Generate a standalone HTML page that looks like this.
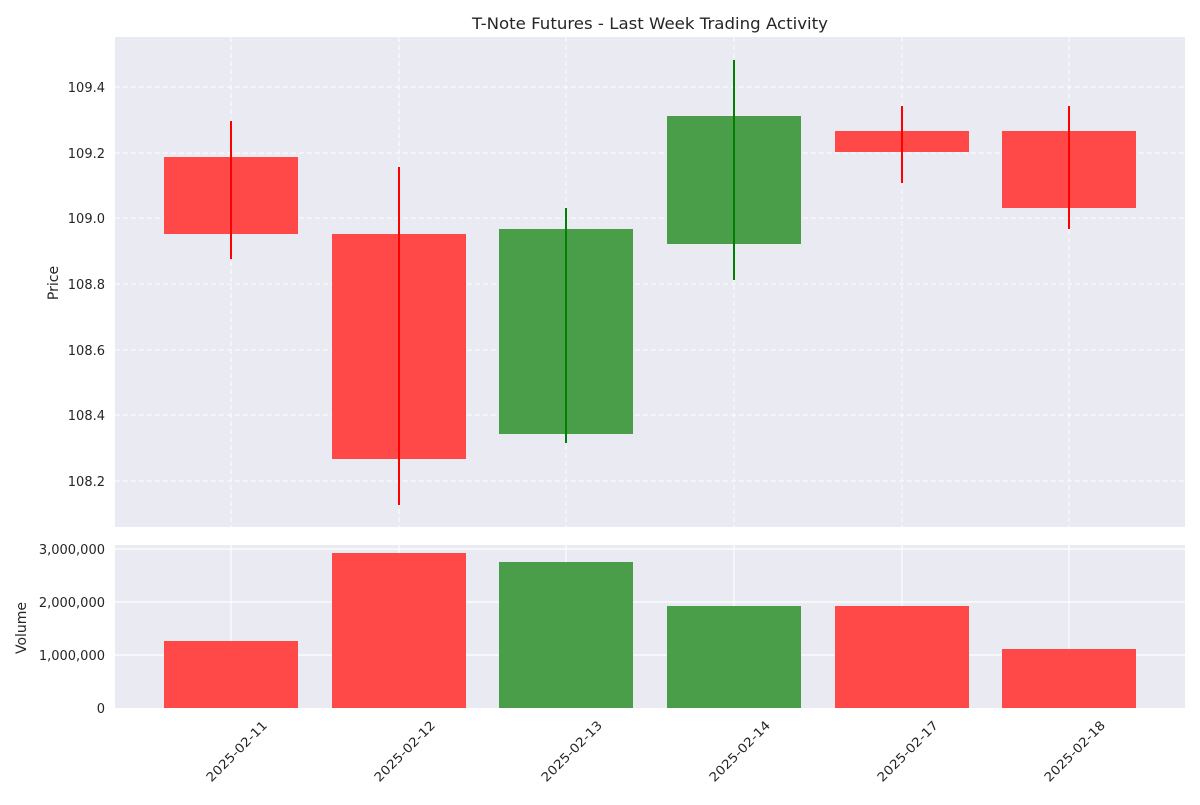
<!DOCTYPE html>
<html><head><meta charset="utf-8"><style>
html,body{margin:0;padding:0;background:#fff;}
svg text{font-family:"DejaVu Sans","Liberation Sans",sans-serif;fill:#262626;}
</style></head><body>
<svg width="1200" height="800" xmlns="http://www.w3.org/2000/svg">
<rect width="1200" height="800" fill="#fff"/>
<text x="650" y="29" font-size="16" text-anchor="middle" textLength="356" lengthAdjust="spacingAndGlyphs">T-Note Futures - Last Week Trading Activity</text>
<rect x="115" y="37" width="1070" height="490" fill="#eaeaf2"/>
<g stroke="#fff" stroke-width="1" stroke-dasharray="5,3" opacity="0.9">
<line x1="115" x2="1185" y1="87" y2="87"/><line x1="115" x2="1185" y1="153" y2="153"/>
<line x1="115" x2="1185" y1="218" y2="218"/><line x1="115" x2="1185" y1="284" y2="284"/>
<line x1="115" x2="1185" y1="350" y2="350"/><line x1="115" x2="1185" y1="415" y2="415"/>
<line x1="115" x2="1185" y1="481" y2="481"/>
<line x1="231" x2="231" y1="37" y2="527"/><line x1="399" x2="399" y1="37" y2="527"/>
<line x1="566" x2="566" y1="37" y2="527"/><line x1="734" x2="734" y1="37" y2="527"/>
<line x1="902" x2="902" y1="37" y2="527"/><line x1="1069" x2="1069" y1="37" y2="527"/>
</g>
<g font-size="13" text-anchor="end">
<text x="105" y="92">109.4</text><text x="105" y="158">109.2</text><text x="105" y="223">109.0</text>
<text x="105" y="289">108.8</text><text x="105" y="355">108.6</text><text x="105" y="420">108.4</text>
<text x="105" y="486">108.2</text>
</g>
<text transform="translate(58,283) rotate(-90)" font-size="14" text-anchor="middle">Price</text>
<g>
<rect x="164" y="157" width="134" height="77" fill="#ff4848"/><line x1="231" x2="231" y1="121" y2="259" stroke="#f00" stroke-width="2"/>
<rect x="332" y="234" width="134" height="225" fill="#ff4848"/><line x1="399" x2="399" y1="167" y2="505" stroke="#f00" stroke-width="2"/>
<rect x="499" y="229" width="134" height="205" fill="#4a9e4a"/><line x1="566" x2="566" y1="208" y2="443" stroke="#008000" stroke-width="2"/>
<rect x="667" y="116" width="134" height="128" fill="#4a9e4a"/><line x1="734" x2="734" y1="60" y2="280" stroke="#008000" stroke-width="2"/>
<rect x="835" y="131" width="134" height="21" fill="#ff4848"/><line x1="902" x2="902" y1="106" y2="183" stroke="#f00" stroke-width="2"/>
<rect x="1002" y="131" width="134" height="77" fill="#ff4848"/><line x1="1069" x2="1069" y1="106" y2="229" stroke="#f00" stroke-width="2"/>
</g>
<rect x="115" y="545" width="1070" height="163" fill="#eaeaf2"/>
<g stroke="#fff" stroke-width="1.2">
<line x1="115" x2="1185" y1="549" y2="549"/><line x1="115" x2="1185" y1="602" y2="602"/>
<line x1="115" x2="1185" y1="655" y2="655"/>
<line x1="231" x2="231" y1="545" y2="708"/><line x1="399" x2="399" y1="545" y2="708"/>
<line x1="566" x2="566" y1="545" y2="708"/><line x1="734" x2="734" y1="545" y2="708"/>
<line x1="902" x2="902" y1="545" y2="708"/><line x1="1069" x2="1069" y1="545" y2="708"/>
</g>
<g>
<rect x="164" y="641" width="134" height="67" fill="#ff4848"/>
<rect x="332" y="553" width="134" height="155" fill="#ff4848"/>
<rect x="499" y="562" width="134" height="146" fill="#4a9e4a"/>
<rect x="667" y="606" width="134" height="102" fill="#4a9e4a"/>
<rect x="835" y="606" width="134" height="102" fill="#ff4848"/>
<rect x="1002" y="649" width="134" height="59" fill="#ff4848"/>
</g>
<g font-size="13" text-anchor="end">
<text x="105" y="554">3,000,000</text><text x="105" y="607">2,000,000</text>
<text x="105" y="660">1,000,000</text><text x="105" y="713">0</text>
</g>
<text transform="translate(26,628) rotate(-90)" font-size="14" text-anchor="middle">Volume</text>
<g font-size="12.5" text-anchor="end">
<text transform="translate(268,726) rotate(-45)" textLength="80" lengthAdjust="spacingAndGlyphs">2025-02-11</text>
<text transform="translate(436,726) rotate(-45)" textLength="80" lengthAdjust="spacingAndGlyphs">2025-02-12</text>
<text transform="translate(603,726) rotate(-45)" textLength="80" lengthAdjust="spacingAndGlyphs">2025-02-13</text>
<text transform="translate(771,726) rotate(-45)" textLength="80" lengthAdjust="spacingAndGlyphs">2025-02-14</text>
<text transform="translate(939,726) rotate(-45)" textLength="80" lengthAdjust="spacingAndGlyphs">2025-02-17</text>
<text transform="translate(1106,726) rotate(-45)" textLength="80" lengthAdjust="spacingAndGlyphs">2025-02-18</text>
</g>
</svg>
</body></html>
